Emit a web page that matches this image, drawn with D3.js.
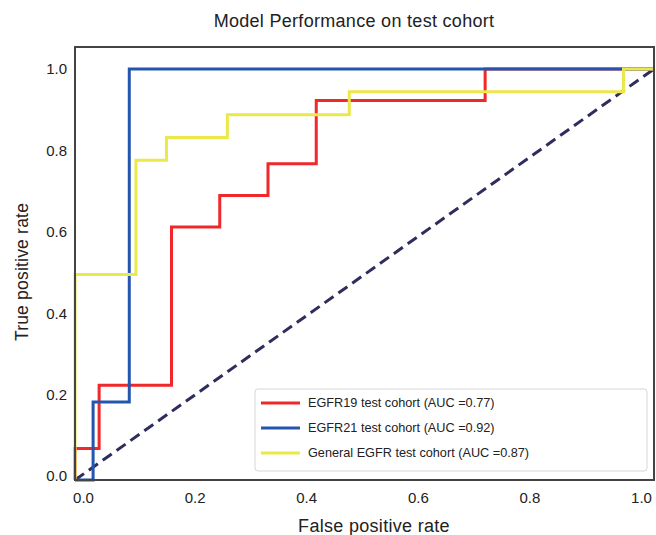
<!DOCTYPE html>
<html>
<head>
<meta charset="utf-8">
<script src="https://cdn.jsdelivr.net/npm/d3@7"></script>
<style>
  body { margin: 0; background: #fff; }
  svg { font-family: "Liberation Sans", Arial, sans-serif; }
</style>
</head>
<body>
<script>
// ROC step points
var egfr19Fpr = [0, 0, 1/24, 1/24, 4/24, 4/24, 6/24, 6/24, 8/24, 8/24, 10/24, 10/24, 17/24, 17/24, 1];
var egfr19Tpr = [0, 1/13, 1/13, 3/13, 3/13, 8/13, 8/13, 9/13, 9/13, 10/13, 10/13, 12/13, 12/13, 1, 1];

var egfr21Fpr = [0, 1/32, 1/32, 3/32, 3/32, 1];
var egfr21Tpr = [0, 0, 0.19, 0.19, 1, 1];

var generalFpr = [0, 0, 2/19, 2/19, 3/19, 3/19, 5/19, 5/19, 9/19, 9/19, 18/19, 18/19, 1];
var generalTpr = [0, 9/18, 9/18, 14/18, 14/18, 15/18, 15/18, 16/18, 16/18, 17/18, 17/18, 1, 1];

var seriesNames = ["EGFR19 test cohort (AUC =0.77)", "EGFR21 test cohort (AUC =0.92)", "General EGFR test cohort (AUC =0.87)"];
var seriesColors = ["#f0282a", "#2456b0", "#ebe84a"];
var tickValues = [0, 0.2, 0.4, 0.6, 0.8, 1.0];

var width = 656, height = 535;
var plotLeft = 75, plotRight = 654, plotTop = 47, plotBottom = 480;

var svg = d3.select("body").append("svg")
    .attr("width", width)
    .attr("height", height);

var x = d3.scaleLinear().domain([0, 1]).range([plotLeft, plotRight]);
var y = d3.scaleLinear().domain([0, 1]).range([plotBottom, plotBottom - 411]);

//tick labels sit slightly inside the data range in the picture
var xTick = d3.scaleLinear().domain([0, 1]).range([83, 641]);
var yTick = d3.scaleLinear().domain([0, 1]).range([476, 69]);

var line = d3.line()
    .x(function(d){ return x(d[0]); })
    .y(function(d){ return y(d[1]); });

//diagonal reference line
svg.append("path")
    .datum([[0, 0], [1, 1]])
    .attr("d", line)
    .attr("fill", "none")
    .attr("stroke", "#2e2d5c")
    .attr("stroke-width", 3)
    .attr("stroke-dasharray", "11,6");

var series = [
    d3.zip(egfr19Fpr, egfr19Tpr),
    d3.zip(egfr21Fpr, egfr21Tpr),
    d3.zip(generalFpr, generalTpr)
];

//draw in order red, blue, yellow (yellow on top)
series.forEach(function(pts, i){
    svg.append("path")
        .datum(pts)
        .attr("d", line)
        .attr("fill", "none")
        .attr("stroke", seriesColors[i])
        .attr("stroke-width", 3);
});

//frame
svg.append("rect")
    .attr("x", plotLeft)
    .attr("y", plotTop)
    .attr("width", plotRight - plotLeft)
    .attr("height", plotBottom - plotTop)
    .attr("fill", "none")
    .attr("stroke", "#444")
    .attr("stroke-width", 2);

//axes without tick marks
var xAxis = svg.append("g")
    .attr("transform", "translate(0," + plotBottom + ")")
    .call(d3.axisBottom(xTick).tickValues(tickValues).tickFormat(d3.format(".1f")).tickSize(0).tickPadding(10));
var yAxis = svg.append("g")
    .attr("transform", "translate(" + plotLeft + ",0)")
    .call(d3.axisLeft(yTick).tickValues(tickValues).tickFormat(d3.format(".1f")).tickSize(0).tickPadding(8));
[xAxis, yAxis].forEach(function(a){
    a.select(".domain").remove();
    a.selectAll("text")
        .attr("font-family", "Liberation Sans, Arial, sans-serif")
        .attr("font-size", 15)
        .attr("fill", "#222");
});
xAxis.selectAll("text").attr("dy", "0.85em");

//title and axis labels
svg.append("text")
    .attr("x", 354)
    .attr("y", 27)
    .attr("text-anchor", "middle")
    .attr("font-size", 18)
    .attr("letter-spacing", 0.3)
    .attr("fill", "#222")
    .text("Model Performance on test cohort");

svg.append("text")
    .attr("x", 374)
    .attr("y", 532)
    .attr("text-anchor", "middle")
    .attr("font-size", 18)
    .attr("letter-spacing", 0.3)
    .attr("fill", "#222")
    .text("False positive rate");

svg.append("text")
    .attr("transform", "translate(28,272) rotate(-90)")
    .attr("text-anchor", "middle")
    .attr("font-size", 17.5)
    .attr("letter-spacing", 0.2)
    .attr("fill", "#222")
    .text("True positive rate");

//legend
var legend = svg.append("g");
legend.append("rect")
    .attr("x", 255)
    .attr("y", 389)
    .attr("width", 392)
    .attr("height", 82)
    .attr("rx", 3)
    .attr("fill", "#fff")
    .attr("stroke", "#d6d6d6")
    .attr("stroke-width", 1);

seriesNames.forEach(function(name, i){
    var yy = 403 + i * 25;
    legend.append("line")
        .attr("x1", 261).attr("x2", 300)
        .attr("y1", yy).attr("y2", yy)
        .attr("stroke", seriesColors[i])
        .attr("stroke-width", 3);
    legend.append("text")
        .attr("x", 308)
        .attr("y", yy)
        .attr("dy", "0.35em")
        .attr("font-size", 12.7)
        .attr("fill", "#222")
        .text(name);
});
</script>
</body>
</html>
